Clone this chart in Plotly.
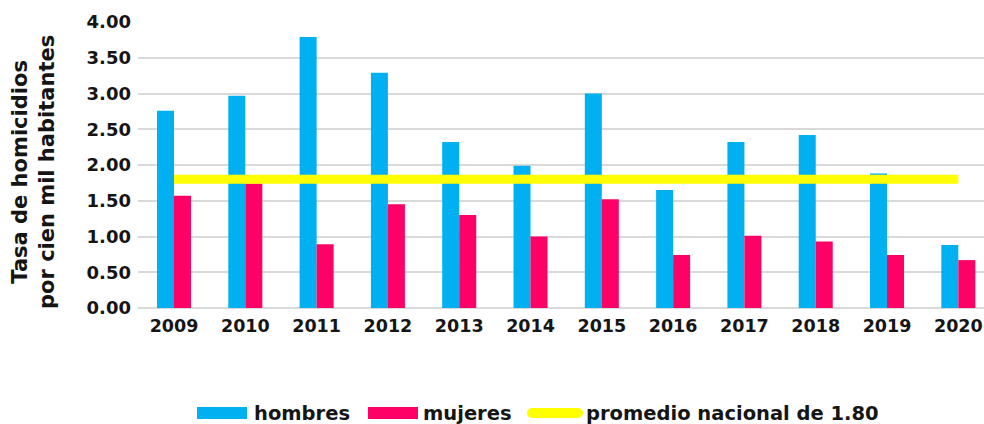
import plotly.graph_objects as go

years = ["2009", "2010", "2011", "2012", "2013", "2014", "2015", "2016", "2017", "2018", "2019", "2020"]
hombres = [2.76, 2.97, 3.79, 3.29, 2.32, 1.99, 3.00, 1.65, 2.32, 2.42, 1.88, 0.88]
mujeres = [1.57, 1.74, 0.89, 1.45, 1.30, 1.00, 1.52, 0.74, 1.01, 0.93, 0.74, 0.67]
promedio = [1.80, 1.80, 1.80, 1.80, 1.80, 1.80, 1.80, 1.80, 1.80, 1.80, 1.80, 1.80]
y_ticks = [0, 0.5, 1.0, 1.5, 2.0, 2.5, 3.0, 3.5, 4.0]
legend_names = ["hombres", "mujeres", "promedio nacional de 1.80"]

C_H = "#00B0F0"
C_M = "#FF0066"
C_Y = "#FFFF00"
TXT = "#151515"
FONT = "DejaVu Sans"

W, H = 984, 424
ML, MR, MT, MB = 138, 0, 22, 116
PW = W - ML - MR
PH = H - MT - MB


def px(sx):  # pixel x -> paper x
    return (sx - ML) / PW


def py(sy):  # pixel y -> paper y
    return (H - MB - sy) / PH


fig = go.Figure()
fig.add_trace(go.Bar(x=years, y=hombres, name=legend_names[0], marker=dict(color=C_H, line=dict(width=0)),
                     showlegend=False))
fig.add_trace(go.Bar(x=years, y=mujeres, name=legend_names[1], marker=dict(color=C_M, line=dict(width=0)),
                     showlegend=False))
fig.add_trace(go.Scatter(x=years, y=promedio, mode="lines", name=legend_names[2],
                         line=dict(color=C_Y, width=9), showlegend=False))

shapes = []
annotations = []
# manual legend
ly0, ly1 = py(419), py(407)
ymid = py(413)
shapes.append(dict(type="rect", xref="paper", yref="paper", x0=px(197), x1=px(247), y0=ly0, y1=ly1,
                   fillcolor=C_H, line=dict(width=0)))
shapes.append(dict(type="rect", xref="paper", yref="paper", x0=px(368), x1=px(418), y0=ly0, y1=ly1,
                   fillcolor=C_M, line=dict(width=0)))
shapes.append(dict(type="rect", xref="paper", yref="paper", x0=px(532), x1=px(578), y0=py(418), y1=py(408),
                   fillcolor=C_Y, line=dict(width=0)))
for cx in (532, 578):
    shapes.append(dict(type="circle", xref="paper", yref="paper", x0=px(cx - 5), x1=px(cx + 5),
                       y0=py(418), y1=py(408), fillcolor=C_Y, line=dict(width=0)))
for name, sx in zip(legend_names, (252, 421, 584)):
    annotations.append(dict(text=name, xref="paper", yref="paper", x=px(sx), y=ymid,
                            xanchor="left", yanchor="middle", showarrow=False,
                            font=dict(family=FONT, size=19.5, color=TXT, weight="bold")))
# y-axis title
annotations.append(dict(text="Tasa de homicidios<br>por cien mil habitantes", xref="paper", yref="paper",
                        x=px(33), y=py(172), xanchor="center", yanchor="middle", textangle=-90,
                        showarrow=False, font=dict(family=FONT, size=21, color=TXT, weight="bold")))

fig.update_layout(
    width=W, height=H,
    margin=dict(l=ML, r=MR, t=MT, b=MB),
    paper_bgcolor="white", plot_bgcolor="white",
    barmode="group", bargap=0.523, bargroupgap=0,
    font=dict(family=FONT, size=18, color=TXT, weight="bold"),
    showlegend=False,
    shapes=shapes, annotations=annotations,
    xaxis=dict(type="category", range=[-0.505, 11.36], showgrid=False, showline=False,
               ticks="", ticklabelstandoff=5, ticklabeloverflow="allow",
               tickfont=dict(size=17.5, weight="bold")),
    yaxis=dict(range=[0, 4], tickvals=y_ticks, tickformat=".2f", showgrid=True,
               gridcolor="#d9d9d9", gridwidth=1.5, zeroline=True, zerolinecolor="#d9d9d9",
               zerolinewidth=1.5, ticks="", ticklabelstandoff=6,
               tickfont=dict(size=18, weight="bold")),
)

fig.write_html("out.html", config={"displayModeBar": False},
               post_script="document.body.style.margin='0px';document.body.style.overflow='hidden';")
